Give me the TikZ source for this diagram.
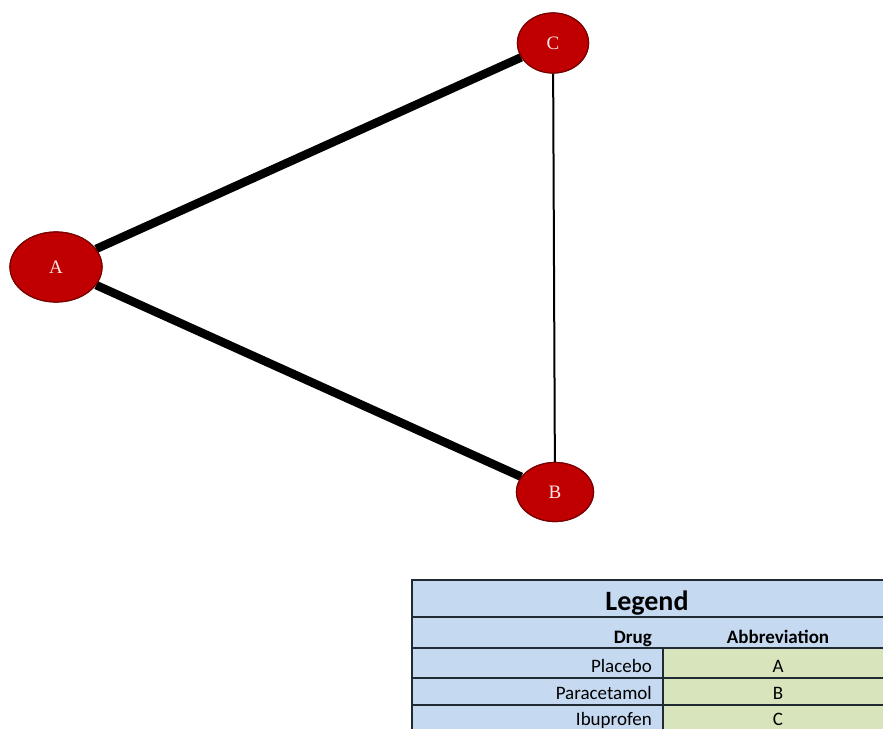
\documentclass[tikz,border=0pt]{standalone}
\usepackage{fontspec}
\setmainfont{Carlito}
\newfontfamily\lblfont{Liberation Serif}
\usetikzlibrary{shapes.geometric}
\definecolor{nodered}{HTML}{C00000}
\definecolor{nodeborder}{HTML}{7A0000}
\definecolor{lgblue}{HTML}{C5D9F1}
\definecolor{lggreen}{HTML}{D8E4BC}
\definecolor{lgline}{HTML}{1F2A33}
\tikzset{
  drugnode/.style={ellipse, draw=nodeborder, line width=1.2pt, fill=nodered, text=white!90!red, font=\lblfont\fontsize{19}{19}\selectfont, inner sep=0pt},
  thickedge/.style={line width=8.5pt},
  thinedge/.style={line width=2pt},
  cellbox/.style={draw=lgline, line width=1.2pt},
  celltext/.style={font=\fontsize{19}{19}\selectfont, inner sep=0pt, anchor=base},
  headtext/.style={font=\bfseries\fontsize{19}{19}\selectfont, inner sep=0pt, anchor=base},
}
\begin{document}
\begin{tikzpicture}[x=1pt,y=-1pt]
\useasboundingbox (0,0) rectangle (883,728);
% nodes
\node[drugnode, minimum width=92pt, minimum height=70pt] (A) at (56,267) {A};
\node[drugnode, minimum width=71pt, minimum height=60pt] (C) at (553,43) {C};
\node[drugnode, minimum width=77pt, minimum height=59pt] (B) at (555,492) {B};
% edges
\draw[thinedge] (C) -- (B);
\draw[thickedge] (A) -- (C);
\draw[thickedge] (A) -- (B);
% redraw nodes on top of edge ends
\node[drugnode, minimum width=92pt, minimum height=70pt] (A2) at (56,267) {A};
\node[drugnode, minimum width=71pt, minimum height=60pt] (C2) at (553,43) {C};
\node[drugnode, minimum width=77pt, minimum height=59pt] (B2) at (555,492) {B};
% legend
\fill[lgblue] (412,580) rectangle (890,735);
\fill[lggreen] (663,648) rectangle (890,735);
\draw[cellbox] (890,580) -- (412,580) -- (412,735);
\draw[cellbox] (412,617) -- (890,617);
\draw[cellbox] (412,648) -- (890,648);
\draw[cellbox] (412,678) -- (890,678);
\draw[cellbox] (412,705) -- (890,705);
\draw[cellbox] (663,648) -- (663,735);
\node[font=\bfseries\fontsize{28}{28}\selectfont, inner sep=0pt, anchor=base] (lgtitle) at (647,610) {Legend};
\node[headtext, anchor=base east] (hdrug) at (652,643) {Drug};
\node[headtext] (habbr) at (778,643) {Abbreviation};
\node[celltext, anchor=base east] (d1) at (652,672) {Placebo};
\node[celltext] (a1) at (778,672) {A};
\node[celltext, anchor=base east] (d2) at (652,699) {Paracetamol};
\node[celltext] (a2) at (778,699) {B};
\node[celltext, anchor=base east] (d3) at (652,725) {Ibuprofen};
\node[celltext] (a3) at (778,725) {C};
\end{tikzpicture}
\end{document}
